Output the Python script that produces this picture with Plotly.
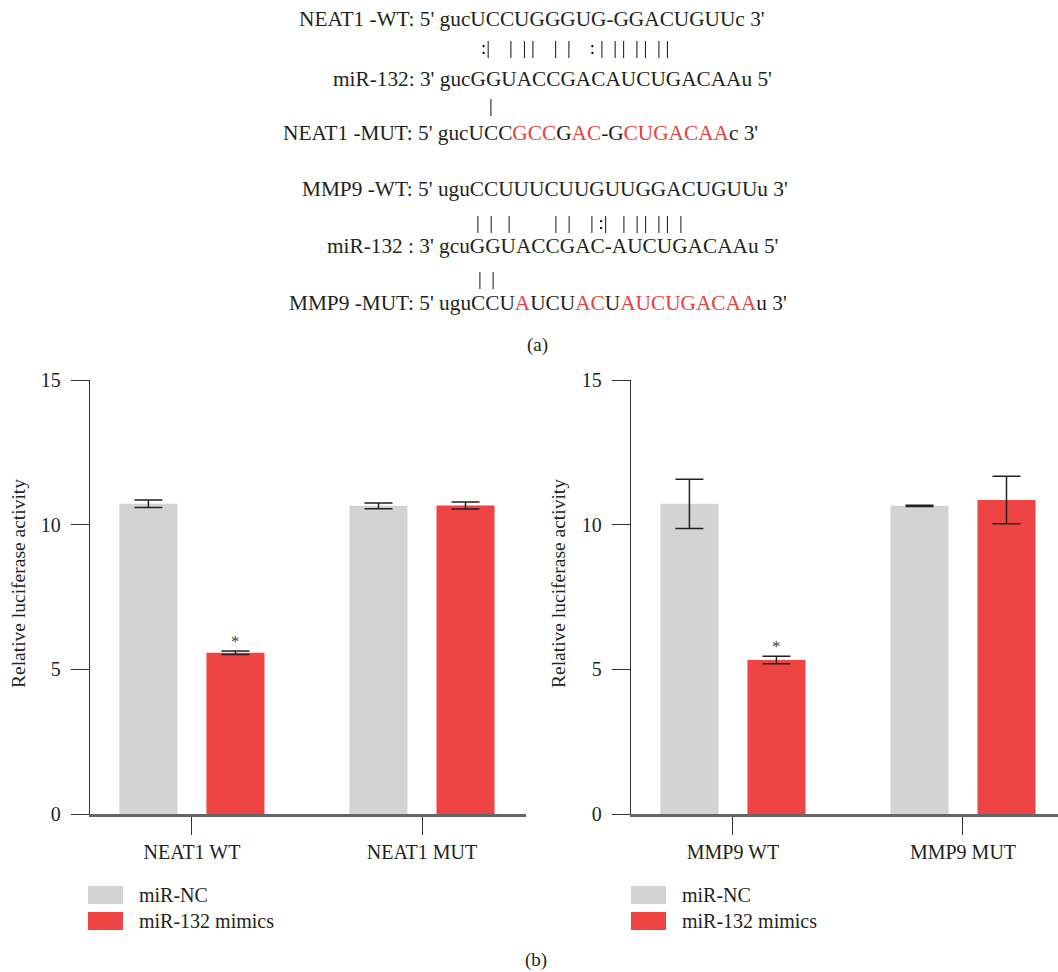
import plotly.graph_objects as go

# ---------------- data ----------------
left_categories = ["NEAT1 WT", "NEAT1 MUT"]
left_nc = [10.72, 10.65]
left_nc_err = [0.13, 0.10]
left_mimics = [5.57, 10.66]
left_mimics_err = [0.06, 0.12]

right_categories = ["MMP9 WT", "MMP9 MUT"]
right_nc = [10.72, 10.65]
right_nc_err = [0.85, 0.02]
right_mimics = [5.32, 10.85]
right_mimics_err = [0.13, 0.82]

series_names = ["miR-NC", "miR-132 mimics"]
significance = ["*", ""]
y_ticks = [0, 5, 10, 15]
y_title = "Relative luciferase activity"

# ---------------- style ----------------
W, H = 1058, 972
FONT = "Liberation Serif, Times New Roman, serif"
TXT = "#231f20"
GRAY = "#d3d3d3"
RED = "#ef4444"
SEQ_RED = "#e8413c"
BARGAP = 0.2435
BARGROUPGAP = 0.333


def px(x):
    return x / W


def py(y):
    return 1 - y / H


fig = go.Figure()

panels = [
    (left_categories, left_nc, left_nc_err, left_mimics, left_mimics_err, "x", "y"),
    (right_categories, right_nc, right_nc_err, right_mimics, right_mimics_err, "x2", "y2"),
]

for cats, nc, nce, mm, mme, xa, ya in panels:
    for name, vals, errs, col in [(series_names[0], nc, nce, GRAY), (series_names[1], mm, mme, RED)]:
        fig.add_trace(go.Bar(
            x=cats, y=vals, name=name, xaxis=xa, yaxis=ya,
            marker=dict(color=col, line=dict(width=0)),
            error_y=dict(type="data", array=errs, visible=True, color="#222222",
                         thickness=1.5, width=14),
            showlegend=False, offsetgroup=name,
        ))
    slot = (1 - BARGAP) / 2
    for i, s in enumerate(significance):
        if s:
            fig.add_annotation(x=i + slot / 2, y=mm[i] + mme[i], xref=xa, yref=ya,
                               text=s, showarrow=False, yanchor="bottom", yshift=-2,
                               font=dict(family=FONT, size=17, color="#444444"))

axis_common = dict(showgrid=False, zeroline=False, showline=True, automargin=False,
                   ticks="outside", ticklen=18, tickwidth=1.3, tickcolor="#333333",
                   tickfont=dict(family=FONT, size=20, color=TXT))

ydom = [py(814), py(380)]
fig.update_layout(
    template="none",
    width=W, height=H, autosize=False,
    margin=dict(l=0, r=0, t=0, b=0, pad=0, autoexpand=False),
    paper_bgcolor="white", plot_bgcolor="white",
    barmode="group", bargap=BARGAP, bargroupgap=BARGROUPGAP,
    font=dict(family=FONT, color=TXT),
    xaxis=dict(domain=[px(90), px(526)], range=[-0.443, 1.452], type="category",
               anchor="y", linecolor="#666666", linewidth=2.5, **axis_common),
    xaxis2=dict(domain=[px(631), 1.0], range=[-0.443, 1.413], type="category",
                anchor="y2", linecolor="#666666", linewidth=2.5, **axis_common),
    yaxis=dict(domain=ydom, range=[0, 15], anchor="x", tickvals=y_ticks,
               linecolor="#333333", linewidth=1.3, ticklabelstandoff=6, **axis_common),
    yaxis2=dict(domain=ydom, range=[0, 15], anchor="x2", tickvals=y_ticks,
                linecolor="#333333", linewidth=1.3, ticklabelstandoff=6, **axis_common),
)

# y-axis titles
for xc in (18, 558):
    fig.add_annotation(xref="paper", yref="paper", x=px(xc), y=py(584),
                       xanchor="center", yanchor="middle", showarrow=False,
                       text=y_title, textangle=-90,
                       font=dict(family=FONT, size=19.5, color=TXT))

# ---------------- custom legends ----------------
for x0 in (88, 631):
    for (yc, col, name) in [(895, GRAY, series_names[0]), (921, RED, series_names[1])]:
        fig.add_shape(type="rect", xref="paper", yref="paper",
                      x0=px(x0), x1=px(x0 + 35), y0=py(yc + 9), y1=py(yc - 9),
                      fillcolor=col, line=dict(width=0))
        fig.add_annotation(xref="paper", yref="paper", x=px(x0 + 49), y=py(yc),
                           xanchor="left", yanchor="middle", showarrow=False,
                           text=name, font=dict(family=FONT, size=20, color=TXT))


def red(s):
    return f"<span style='color:{SEQ_RED}'>{s}</span>"


SEQ_SIZE = 21.3
seq_lines = [
    ("NEAT1 -WT: 5' gucUCCUGGGUG-GGACUGUUc 3'", 531.5, 19),
    ("miR-132: 3' gucGGUACCGACAUCUGACAAu 5'", 552, 79),
    ("NEAT1 -MUT: 5' gucUCC" + red("GCC") + "G" + red("AC") + "-G" + red("CUGACAA") + "c 3'", 520, 133),
    ("MMP9 -WT: 5' uguCCUUUCUUGUUGGACUGUUu 3'", 545.3, 189),
    ("miR-132 : 3' gcuGGUACCGAC-AUCUGACAAu 5'", 552.7, 246),
    ("MMP9 -MUT: 5' uguCCU" + red("A") + "UCU" + red("AC") + "U" + red("AUCUGACAA") + "u 3'", 538.3, 303),
]
for t, xc, yc in seq_lines:
    fig.add_annotation(xref="paper", yref="paper", x=px(xc), y=py(yc),
                       xanchor="center", yanchor="middle", showarrow=False, text=t,
                       font=dict(family=FONT, size=SEQ_SIZE, color=TXT))

PAIR_SIZE = 19
pairings = [
    (47, [(":", 481.7), ("|", 488), ("|", 507.7), ("|", 520), ("|", 532.7), ("|", 553), ("|", 566),
          (":", 592.7), ("|", 599), ("|", 611), ("|", 621.7), ("|", 632.7), ("|", 643), ("|", 655), ("|", 666.7)]),
    (105, [("|", 489.3)]),
    (222, [("|", 476), ("|", 489.3), ("|", 509.3), ("|", 553.3), ("|", 566), ("|", 591), (":", 601), ("|", 605),
           ("|", 621.7), ("|", 636), ("|", 646), ("|", 656.7), ("|", 667.7), ("|", 678.3)]),
    (279, [("|", 478.3), ("|", 490)]),
]
glyph_w = {"|": 0.2 * PAIR_SIZE, ":": 0.278 * PAIR_SIZE}
space_w = 0.25 * PAIR_SIZE
for yc, items in pairings:
    left0 = items[0][1] - glyph_w[items[0][0]] / 2
    cursor = left0
    s = ""
    for ch, xc in items:
        target = xc - glyph_w[ch] / 2
        n = max(0, round((target - cursor) / space_w))
        s += "\u00a0" * n + ch
        cursor += n * space_w + glyph_w[ch]
    fig.add_annotation(xref="paper", yref="paper", x=px(left0), y=py(yc),
                       xanchor="left", yanchor="middle", showarrow=False, text=s,
                       font=dict(family=FONT, size=PAIR_SIZE, color="#000000"))

for lab, xc, yc in [("(a)", 537, 345), ("(b)", 536, 960)]:
    fig.add_annotation(xref="paper", yref="paper", x=px(xc), y=py(yc),
                       xanchor="center", yanchor="middle", showarrow=False, text=lab,
                       font=dict(family=FONT, size=19, color=TXT))

POST = """
document.body.style.margin = '0';
function fixPipes() {
  document.querySelectorAll('g.annotation').forEach(function (g) {
    var t = g.querySelector('text');
    if (t && t.textContent.indexOf('|') >= 0) { g.style.filter = 'grayscale(1)'; }
  });
}
fixPipes();
setTimeout(fixPipes, 50);
setTimeout(fixPipes, 400);
"""

fig.write_html("out.html", config={"displayModeBar": False}, post_script=POST)
